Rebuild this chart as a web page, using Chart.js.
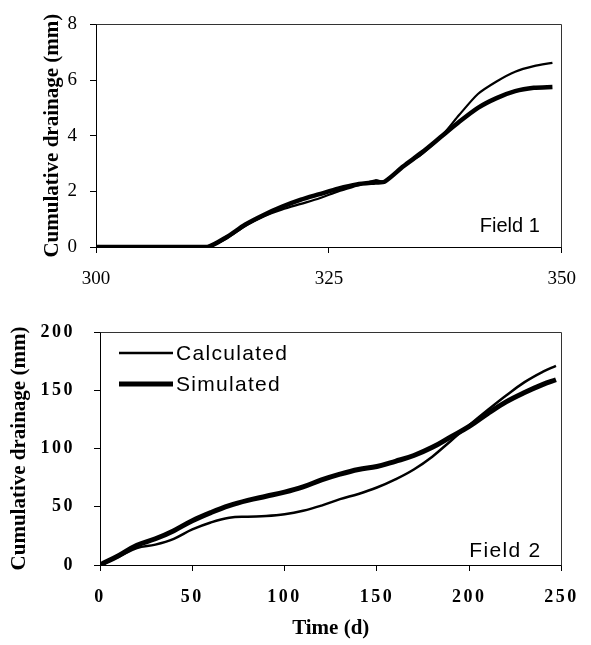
<!DOCTYPE html>
<html>
<head>
<meta charset="utf-8">
<script src="https://cdn.jsdelivr.net/npm/chart.js@4.4.1/dist/chart.umd.min.js"></script>
<style>
  html, body { margin: 0; padding: 0; background: #fff; }
  #wrap { position: relative; width: 591px; height: 645px; }
  canvas { display: block; }
</style>
</head>
<body>
<div id="wrap">
  <canvas id="field1" width="591" height="300"></canvas>
  <canvas id="field2" width="591" height="345"></canvas>
</div>
<script>
// ---- Field 1 (day of year) ----
const field1Days       = [300, 305, 310, 312, 314, 316, 318, 320, 322, 324, 326, 328, 330, 331, 333, 335, 337, 339, 341, 343, 345, 347, 349];
const field1Calculated = [0, 0, 0, 0, 0.30, 0.75, 1.10, 1.35, 1.55, 1.75, 2.00, 2.20, 2.40, 2.35, 2.90, 3.35, 3.95, 4.75, 5.50, 5.95, 6.30, 6.50, 6.62];
const field1Simulated  = [0, 0, 0, 0, 0.35, 0.80, 1.15, 1.45, 1.70, 1.90, 2.10, 2.25, 2.32, 2.35, 2.90, 3.40, 3.95, 4.50, 5.00, 5.35, 5.60, 5.72, 5.75];
const field1XTicks = [300, 325, 350];
const field1YTicks = [0, 2, 4, 6, 8];

// ---- Field 2 (days) ----
const field2Days       = [0, 10, 20, 30, 40, 50, 60, 70, 80, 90, 100, 110, 120, 130, 140, 150, 160, 170, 180, 190, 200, 210, 220, 230, 240, 247];
const field2Calculated = [0, 7, 14.5, 17.5, 22.5, 30.5, 36.5, 40.5, 41.5, 42, 43.5, 46.5, 51, 56.5, 61, 66.5, 73.5, 82, 93, 106.5, 120, 133, 145.5, 157, 166, 171];
const field2Simulated  = [0, 8, 17, 22.5, 29.5, 38, 45, 51, 55.5, 59, 62.5, 67, 73, 78, 82, 84.5, 89, 94, 101, 110, 119, 130, 140, 148, 155, 159];
const field2XTicks = [0, 50, 100, 150, 200, 250];
const field2YTicks = [0, 50, 100, 150, 200];

const SERIF = "'Liberation Serif', 'Times New Roman', Times, serif";
const SANS  = "'Liberation Sans', Arial, Helvetica, sans-serif";

const toPoints = (xs, ys) => xs.map((x, i) => ({ x, y: ys[i] }));

// Linear scale whose tick labels are drawn with extra letter spacing
class SpacedLinearScale extends Chart.LinearScale {
  drawLabels(area) {
    const ctx = this.ctx;
    ctx.save();
    ctx.letterSpacing = (this.options.ticks.letterSpacing || 0) + 'px';
    super.drawLabels(area);
    ctx.restore();
  }
}
SpacedLinearScale.id = 'spacedLinear';
SpacedLinearScale.defaults = Chart.LinearScale.defaults;
Chart.register(SpacedLinearScale);

// Closes the plot box (top and right edges), draws the field label and the legend
const plotDecor = {
  id: 'plotDecor',
  afterDraw(chart, args, opts) {
    const { ctx, chartArea: a } = chart;
    ctx.save();
    ctx.strokeStyle = '#333';
    ctx.lineWidth = 1;
    const l = Math.round(a.left) + 0.5, r = Math.round(a.right) - 0.5;
    const t = Math.round(a.top) + 0.5, b = Math.round(a.bottom) + 0.5;
    ctx.beginPath();
    ctx.moveTo(l, t); ctx.lineTo(r, t); ctx.lineTo(r, b);
    ctx.stroke();

    ctx.fillStyle = '#000';
    ctx.textBaseline = 'alphabetic';
    if (opts.field) {
      const f = opts.field;
      ctx.font = f.size + 'px ' + SANS;
      ctx.letterSpacing = (f.spacing || 0) + 'px';
      ctx.textAlign = 'right';
      ctx.fillText(f.text, a.right - f.dx, a.bottom - f.dy);
    }
    if (opts.legend) {
      const lg = opts.legend;
      ctx.font = lg.size + 'px ' + SANS;
      ctx.letterSpacing = (lg.spacing || 0) + 'px';
      ctx.textAlign = 'left';
      chart.data.datasets.forEach((ds, i) => {
        const y = a.top + lg.y0 + i * lg.rowGap;
        ctx.strokeStyle = ds.borderColor;
        ctx.lineWidth = ds.borderWidth;
        ctx.lineCap = 'butt';
        ctx.beginPath();
        ctx.moveTo(a.left + lg.x0, y);
        ctx.lineTo(a.left + lg.x0 + lg.sample, y);
        ctx.stroke();
        ctx.fillText(ds.label, a.left + lg.x0 + lg.sample + 3, y + 7);
      });
    }
    ctx.restore();
  }
};

function fixTicks(list) {
  return scale => { scale.ticks = list.map(v => ({ value: v })); };
}

// ---------- Field 1 ----------
new Chart(document.getElementById('field1'), {
  type: 'line',
  data: {
    datasets: [
      { label: 'Calculated', data: toPoints(field1Days, field1Calculated),
        borderColor: '#000', borderWidth: 2.2, pointRadius: 0, tension: 0.25 },
      { label: 'Simulated', data: toPoints(field1Days, field1Simulated),
        borderColor: '#000', borderWidth: 4.5, pointRadius: 0, tension: 0.25 }
    ]
  },
  options: {
    responsive: false,
    animation: false,
    events: [],
    layout: { padding: { left: 0, top: 14, right: 16, bottom: 0 } },
    plugins: {
      legend: { display: false },
      tooltip: { enabled: false },
      plotDecor: { field: { text: 'Field 1', size: 20, spacing: 0, dx: 22, dy: 15 } }
    },
    scales: {
      x: {
        type: 'linear', min: 300, max: 350,
        afterBuildTicks: fixTicks(field1XTicks),
        afterFit: s => { s.height = 53; },
        ticks: { color: '#000', font: { family: SERIF, size: 19 }, padding: 15, maxRotation: 0 },
        grid: { drawOnChartArea: false, tickLength: 6, color: '#000' },
        border: { color: '#000', width: 1 }
      },
      y: {
        type: 'linear', min: 0, max: 8,
        afterBuildTicks: fixTicks(field1YTicks),
        afterFit: s => { s.width = 96; },
        ticks: { color: '#000', font: { family: SERIF, size: 19 }, padding: 13 },
        grid: { drawOnChartArea: false, tickLength: 6, color: '#000' },
        border: { color: '#000', width: 1 },
        title: { display: true, text: 'Cumulative drainage (mm)', color: '#000',
                 font: { family: SERIF, size: 21, weight: 'bold' }, padding: { top: 40, bottom: 0 } }
      }
    }
  },
  plugins: [plotDecor]
});

// ---------- Field 2 ----------
new Chart(document.getElementById('field2'), {
  type: 'line',
  data: {
    datasets: [
      { label: 'Calculated', data: toPoints(field2Days, field2Calculated),
        borderColor: '#000', borderWidth: 2.5, pointRadius: 0, tension: 0.4 },
      { label: 'Simulated', data: toPoints(field2Days, field2Simulated),
        borderColor: '#000', borderWidth: 5, pointRadius: 0, tension: 0.4 }
    ]
  },
  options: {
    responsive: false,
    animation: false,
    events: [],
    layout: { padding: { left: 0, top: 32, right: 18, bottom: 0 } },
    plugins: {
      legend: { display: false },
      tooltip: { enabled: false },
      plotDecor: {
        field: { text: 'Field 2', size: 21, spacing: 1.3, dx: 20, dy: 8 },
        legend: { size: 21, spacing: 1.3, x0: 19, y0: 21, rowGap: 31, sample: 54 }
      }
    },
    scales: {
      x: {
        type: 'spacedLinear', min: 0, max: 250,
        afterBuildTicks: fixTicks(field2XTicks),
        afterFit: s => { s.height = 80; },
        ticks: { color: '#000', font: { family: SERIF, size: 18, weight: 'bold' }, padding: 16, maxRotation: 0, letterSpacing: 2.5 },
        grid: { drawOnChartArea: false, tickLength: 6, color: '#000' },
        border: { color: '#000', width: 1 },
        title: { display: true, text: 'Time (d)', color: '#000',
                 font: { family: SERIF, size: 21, weight: 'bold' }, padding: { top: 0, bottom: 4 } }
      },
      y: {
        type: 'spacedLinear', min: 0, max: 200,
        afterBuildTicks: fixTicks(field2YTicks),
        afterFit: s => { s.width = 100; },
        ticks: { color: '#000', font: { family: SERIF, size: 18, weight: 'bold' }, padding: 19, letterSpacing: 2.5 },
        grid: { drawOnChartArea: false, tickLength: 6, color: '#000' },
        border: { color: '#000', width: 1 },
        title: { display: true, text: 'Cumulative drainage (mm)', color: '#000',
                 font: { family: SERIF, size: 21, weight: 'bold' }, padding: { top: 7, bottom: 0 } }
      }
    }
  },
  plugins: [plotDecor]
});
</script>
</body>
</html>
